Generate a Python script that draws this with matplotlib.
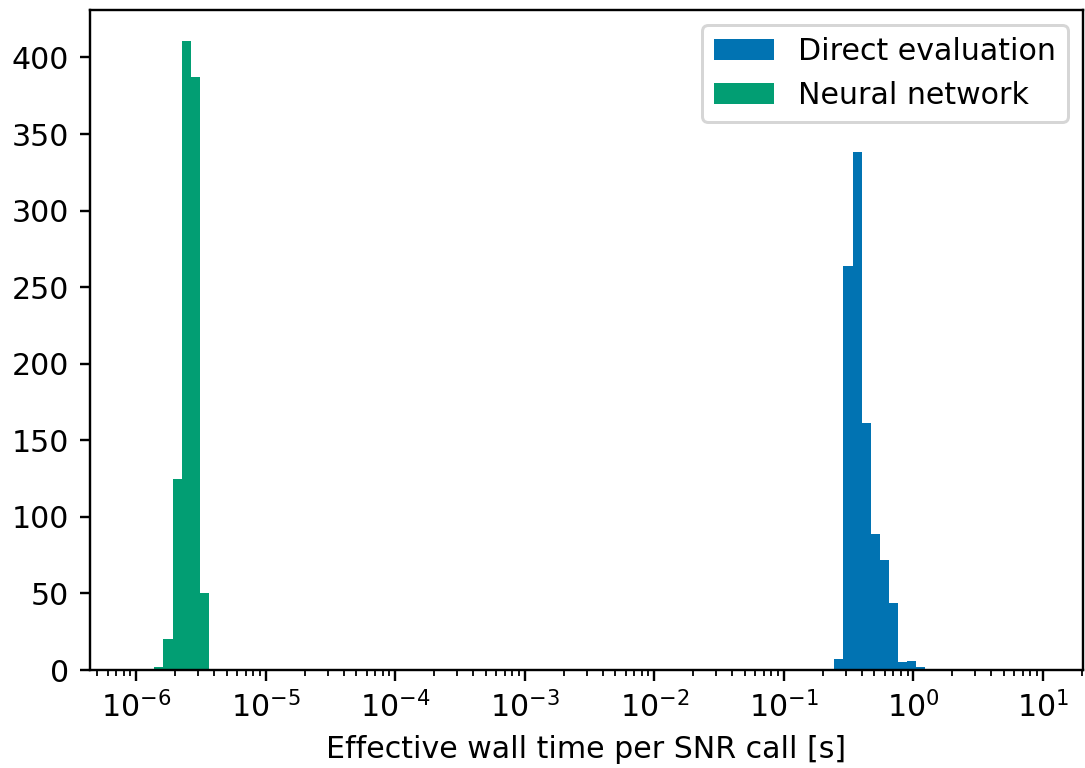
import numpy as np
import matplotlib
matplotlib.use("Agg")
import matplotlib.pyplot as plt
from matplotlib.ticker import LogLocator, NullFormatter

# Histogram bin edges: 100 log-spaced bins between 1e-6 and 10 s
bin_edges = np.logspace(-6, 1, 101)

# Counts per bin
direct_first_bin = 77
direct_counts = [7, 264, 338, 161, 89, 72, 44, 5, 6, 2]
nn_first_bin = 2
nn_counts = [2, 20, 125, 411, 387, 50]

series_labels = ["Direct evaluation", "Neural network"]
series_colors = ["#0173b2", "#029e73"]
xlabel = "Effective wall time per SNR call [s]"
xtick_values = [1e-6, 1e-5, 1e-4, 1e-3, 1e-2, 1e-1, 1e0, 1e1]
ytick_values = [0, 50, 100, 150, 200, 250, 300, 350, 400]

fig = plt.figure(figsize=(1085 / 216, 768 / 216), dpi=216)
ax = fig.add_axes([90 / 1085, 1 - 670 / 768, (1083 - 90) / 1085, (670 - 10) / 768])

for first, counts, lab, col in [
    (direct_first_bin, direct_counts, series_labels[0], series_colors[0]),
    (nn_first_bin, nn_counts, series_labels[1], series_colors[1]),
]:
    edges = bin_edges[first:first + len(counts) + 1]
    centers = np.sqrt(edges[:-1] * edges[1:])
    ax.hist(centers, bins=edges, weights=counts, color=col, label=lab)

ax.set_xscale("log")
ax.set_xlim(10 ** -6.357, 10 ** 1.309)
ax.set_ylim(0, 431)
ax.set_xticks(xtick_values)
ax.xaxis.set_minor_locator(LogLocator(base=10, subs=np.arange(2, 10), numticks=20))
ax.xaxis.set_minor_formatter(NullFormatter())
ax.set_yticks(ytick_values)
ax.set_xlabel(xlabel)
ax.legend(loc="upper right")

fig.savefig("out.png", dpi=216)
